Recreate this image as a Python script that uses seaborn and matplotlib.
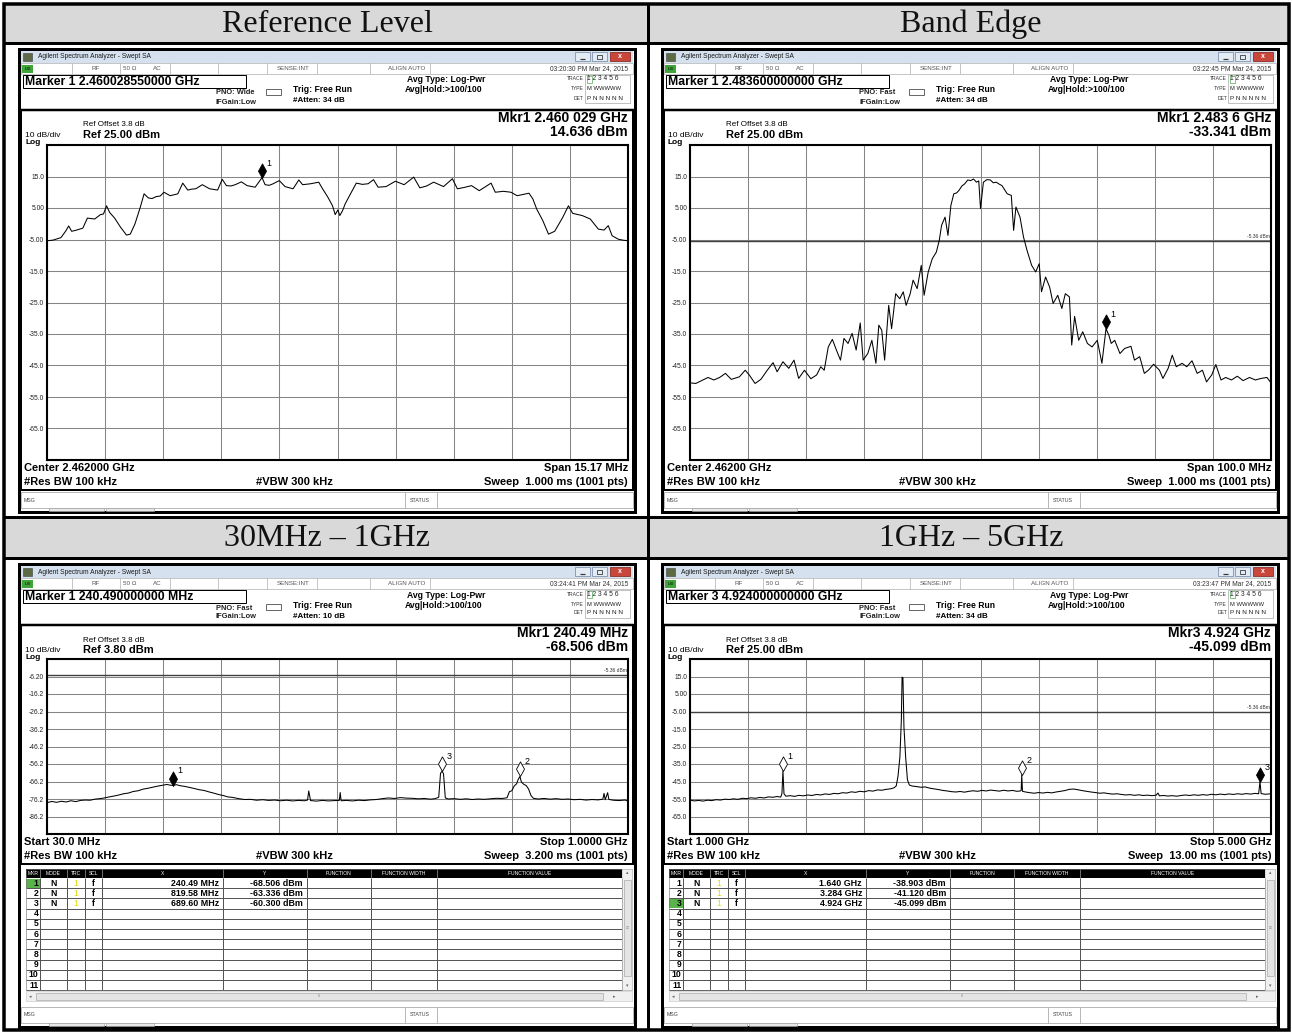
import numpy as np
import pandas as pd
import matplotlib
matplotlib.use("Agg")
import matplotlib.pyplot as plt
from matplotlib.patches import Rectangle
from matplotlib.path import Path
import seaborn as sns

# ---------------------------------------------------------------- data
panel_titles = ["Reference Level", "Band Edge", "30MHz – 1GHz", "1GHz – 5GHz"]

# Reference Level trace (MHz, dBm)
ref_trace = [
    (2454.42, -5.4), (2454.57, -5.2), (2454.78, -4.4), (2454.91, -2.2), (2454.98, -0.7),
    (2455.06, -2.4), (2455.19, -2.0), (2455.35, -1.4), (2455.47, 1.8), (2455.66, 1.5),
    (2455.81, 2.9), (2455.89, 3.1), (2455.97, 5.7), (2456.05, 3.6), (2456.18, 1.8),
    (2456.33, -1.0), (2456.49, -3.6), (2456.59, -3.3), (2456.71, -0.1), (2456.85, 5.2),
    (2456.95, 9.5), (2457.06, 8.2), (2457.16, 8.0), (2457.26, 8.6), (2457.37, 8.8),
    (2457.47, 10.0), (2457.63, 8.9), (2457.83, 9.5), (2457.96, 12.9), (2458.09, 10.7),
    (2458.20, 11.0), (2458.30, 11.1), (2458.47, 12.4), (2458.66, 11.1), (2458.87, 10.7),
    (2458.99, 14.1), (2459.10, 12.1), (2459.22, 12.0), (2459.33, 12.4), (2459.49, 13.3),
    (2459.64, 12.1), (2459.85, 11.6), (2460.029, 14.636), (2460.11, 12.4), (2460.22, 12.2),
    (2460.32, 12.7), (2460.48, 13.7), (2460.63, 11.8), (2460.84, 11.1), (2460.99, 13.9),
    (2461.09, 12.4), (2461.30, 12.7), (2461.51, 13.2), (2461.61, 11.1), (2461.75, 8.4),
    (2461.87, 5.7), (2461.94, 2.9), (2462.01, 4.4), (2462.06, 2.6), (2462.13, 4.1),
    (2462.20, 6.3), (2462.34, 9.5), (2462.49, 12.9), (2462.65, 12.5), (2462.80, 12.7),
    (2462.94, 14.0), (2463.06, 11.6), (2463.27, 11.8), (2463.51, 13.5), (2463.74, 12.4),
    (2463.99, 14.8), (2464.15, 11.4), (2464.33, 12.0), (2464.51, 13.2), (2464.77, 11.8),
    (2465.00, 14.3), (2465.13, 11.1), (2465.30, 11.5), (2465.50, 12.1), (2465.70, 10.5),
    (2466.01, 12.9), (2466.12, 10.0), (2466.33, 10.3), (2466.53, 10.0), (2466.69, 8.9),
    (2467.00, 9.7), (2467.10, 7.9), (2467.20, 4.7), (2467.36, 1.0), (2467.51, -3.3),
    (2467.67, -2.4), (2467.88, 2.0), (2468.03, 5.7), (2468.14, 3.3), (2468.39, 2.6),
    (2468.60, 1.5), (2468.81, -1.7), (2468.96, -2.0), (2469.07, -0.6), (2469.17, -3.8),
    (2469.33, -4.9), (2469.45, -5.2), (2469.585, -5.4),
]

# Band Edge trace (MHz, dBm)
edge_trace = [
    (2412.0, -50.5), (2413.0, -50.7), (2414.0, -49.8), (2415.1, -48.8), (2416.1, -49.6),
    (2417.1, -48.8), (2418.1, -47.5), (2419.1, -49.4), (2420.5, -48.6), (2421.5, -46.5),
    (2422.2, -48.0), (2423.2, -50.7), (2424.2, -49.4), (2425.3, -46.5), (2426.3, -44.1),
    (2427.0, -47.0), (2428.0, -43.8), (2429.0, -45.9), (2429.9, -43.3), (2430.7, -49.1),
    (2431.7, -46.5), (2432.8, -49.2), (2433.8, -48.0), (2434.5, -45.4), (2435.1, -46.5),
    (2435.8, -39.1), (2436.5, -36.7), (2437.2, -40.1), (2437.9, -43.3), (2438.5, -36.4),
    (2439.2, -38.0), (2439.9, -34.8), (2440.6, -40.1), (2441.3, -31.5), (2441.8, -43.3),
    (2442.6, -41.2), (2443.3, -37.0), (2444.0, -44.3), (2444.5, -32.2), (2445.0, -33.8),
    (2445.5, -43.3), (2446.2, -25.9), (2446.7, -33.3), (2447.4, -22.2), (2448.1, -23.8),
    (2448.7, -21.6), (2449.2, -25.9), (2449.9, -22.2), (2450.4, -17.9), (2451.1, -20.6),
    (2451.8, -13.2), (2452.3, -22.7), (2453.0, -15.3), (2453.7, -11.1), (2454.4, -9.0),
    (2454.9, -5.3), (2455.3, -0.5), (2455.9, 2.1), (2456.4, -3.7), (2456.9, 5.8),
    (2457.4, 9.5), (2457.9, 9.8), (2458.3, 10.6), (2458.8, 12.0), (2459.3, 12.7),
    (2459.8, 13.9), (2460.3, 13.7), (2460.8, 14.2), (2461.3, 13.2), (2461.7, 13.6),
    (2462.0, 4.8), (2462.5, 13.2), (2463.1, 14.0), (2463.7, 13.9), (2464.2, 13.0),
    (2464.7, 13.2), (2465.2, 12.6), (2465.7, 12.1), (2466.6, 9.5), (2467.3, 9.0),
    (2467.7, -2.1), (2468.1, 5.3), (2468.8, 2.1), (2469.4, -4.2), (2470.0, -8.4),
    (2470.8, -13.2), (2471.5, -15.3), (2472.1, -12.7), (2472.5, -21.6), (2473.2, -16.9),
    (2473.9, -20.1), (2474.5, -25.3), (2475.3, -22.7), (2476.0, -26.9), (2476.6, -22.2),
    (2477.3, -23.2), (2477.7, -38.5), (2478.2, -29.4), (2478.9, -37.0), (2479.6, -34.3),
    (2480.4, -38.0), (2481.2, -39.1), (2482.1, -37.0), (2482.9, -44.3), (2483.6, -33.341),
    (2484.1, -35.4), (2484.5, -38.0), (2485.1, -37.0), (2486.0, -41.2), (2486.8, -39.6),
    (2487.9, -38.9), (2488.5, -43.3), (2489.4, -42.2), (2490.2, -47.5), (2490.9, -46.5),
    (2491.8, -44.6), (2492.8, -46.5), (2493.4, -49.1), (2494.3, -45.9), (2495.0, -41.7),
    (2495.7, -45.4), (2496.7, -44.3), (2497.5, -45.4), (2498.4, -43.5), (2499.3, -47.5),
    (2500.2, -46.5), (2500.9, -50.2), (2501.8, -48.0), (2502.5, -44.7), (2503.4, -49.6),
    (2504.2, -48.8), (2505.2, -49.6), (2506.2, -48.4), (2507.2, -49.8), (2508.3, -48.8),
    (2509.3, -49.6), (2510.3, -49.1), (2511.3, -48.8), (2512.0, -50.5),
]

# 30 MHz - 1 GHz trace (MHz, dBm)
low_trace = [
    (30, -78.3), (38, -77.6), (46, -78.1), (54, -77.5), (62, -77.9), (70, -77.2), (78, -77.7),
    (86, -77.0), (94, -76.8), (102, -76.9), (110, -76.3), (118, -76.0), (126, -75.6),
    (134, -75.0), (142, -74.5), (150, -73.9), (158, -73.2), (166, -72.8), (174, -71.9),
    (182, -71.5), (190, -70.6), (198, -70.1), (206, -69.5), (214, -68.9), (222, -68.4),
    (230, -67.9), (236, -68.3), (240.49, -68.506), (246, -68.0), (252, -68.6), (260, -69.0),
    (268, -69.6), (276, -70.2), (284, -70.9), (292, -71.3), (300, -72.1), (308, -72.8),
    (316, -73.6), (324, -74.2), (332, -75.0), (340, -75.3), (350, -76.0), (360, -76.5),
    (370, -76.4), (380, -76.9), (390, -76.6), (400, -77.0), (410, -76.8), (420, -77.2),
    (430, -76.9), (440, -77.3), (450, -77.0), (460, -77.2), (465, -76.8), (467, -71.6),
    (470, -77.1), (480, -77.4), (490, -77.0), (500, -77.3), (510, -77.1), (518, -77.0),
    (519.5, -72.5), (521, -77.2), (530, -77.0), (540, -77.3), (550, -76.9), (560, -77.1),
    (570, -76.7), (580, -76.5), (590, -76.0), (600, -75.6), (610, -75.9), (620, -75.4),
    (630, -75.7), (640, -75.8), (650, -76.1), (660, -75.9), (670, -76.3), (678, -76.0),
    (684, -75.2), (687, -61.5), (689.6, -60.3), (692, -61.8), (695, -75.6), (700, -76.2),
    (710, -76.0), (720, -76.4), (730, -76.1), (740, -76.5), (750, -76.2), (760, -76.4),
    (770, -76.1), (780, -75.8), (790, -75.9), (798, -75.5), (802, -72.0), (806, -71.5),
    (810, -68.8), (814, -67.5), (817, -64.8), (819.58, -63.336), (822, -66.5), (826, -67.8),
    (830, -68.5), (834, -70.5), (838, -74.2), (842, -75.8), (850, -76.2), (860, -75.9),
    (870, -76.3), (880, -76.0), (890, -76.4), (900, -76.2), (910, -76.6), (920, -76.4),
    (930, -76.8), (940, -76.5), (950, -76.7), (958, -76.3), (960, -73.0), (962, -76.6),
    (966, -72.6), (968, -76.4), (975, -76.9), (985, -77.1), (995, -76.8), (1000, -77.4),
]

# 1 GHz - 5 GHz trace (GHz, dBm)
high_trace = [
    (1.000, -55.6), (1.030, -56.1), (1.060, -55.8), (1.090, -56.2), (1.120, -55.7),
    (1.150, -55.9), (1.180, -55.4), (1.210, -55.6), (1.240, -55.1), (1.270, -55.3),
    (1.300, -54.9), (1.330, -55.2), (1.360, -54.6), (1.390, -54.8), (1.420, -54.3),
    (1.450, -54.6), (1.480, -54.1), (1.510, -54.4), (1.540, -53.8), (1.570, -54.0),
    (1.600, -53.6), (1.625, -53.9), (1.633, -51.8), (1.640, -38.903), (1.647, -52.0),
    (1.660, -53.4), (1.690, -53.1), (1.720, -53.5), (1.750, -52.9), (1.780, -53.2),
    (1.810, -52.7), (1.840, -53.0), (1.870, -52.4), (1.900, -52.7), (1.930, -52.1),
    (1.960, -52.4), (1.990, -51.8), (2.020, -52.0), (2.050, -51.4), (2.080, -51.6),
    (2.110, -50.9), (2.140, -51.2), (2.170, -50.6), (2.200, -50.9), (2.230, -50.2),
    (2.260, -50.5), (2.290, -49.8), (2.320, -50.0), (2.350, -49.5), (2.380, -49.2),
    (2.405, -48.6), (2.420, -47.5), (2.432, -42.0), (2.445, -31.0), (2.455, -10.0),
    (2.460, 14.6), (2.466, 14.3), (2.473, -14.0), (2.485, -31.5), (2.497, -44.0),
    (2.510, -47.0), (2.530, -47.6), (2.560, -47.9), (2.590, -48.3), (2.620, -48.1),
    (2.650, -48.8), (2.680, -49.2), (2.710, -49.6), (2.740, -50.1), (2.770, -50.4),
    (2.800, -50.8), (2.830, -51.0), (2.860, -50.7), (2.890, -51.1), (2.920, -50.6),
    (2.950, -50.3), (2.980, -50.6), (3.010, -50.1), (3.040, -50.4), (3.070, -49.9),
    (3.100, -50.2), (3.130, -50.5), (3.160, -50.0), (3.190, -50.4), (3.220, -50.1),
    (3.250, -50.6), (3.275, -50.4), (3.280, -50.0), (3.284, -41.12), (3.289, -50.6),
    (3.310, -51.0), (3.340, -51.4), (3.370, -51.7), (3.400, -51.3), (3.430, -51.6),
    (3.460, -51.2), (3.490, -51.5), (3.520, -51.0), (3.550, -50.6), (3.580, -50.2),
    (3.610, -49.5), (3.640, -49.3), (3.670, -49.7), (3.700, -50.2), (3.730, -50.6),
    (3.760, -51.0), (3.790, -51.3), (3.820, -51.7), (3.850, -51.5), (3.880, -51.9),
    (3.910, -52.2), (3.940, -52.0), (3.970, -52.4), (4.000, -52.7), (4.030, -52.5),
    (4.060, -52.9), (4.090, -52.6), (4.120, -53.0), (4.150, -52.8), (4.180, -53.1),
    (4.210, -52.8), (4.222, -51.6), (4.232, -53.2), (4.260, -53.0), (4.290, -53.3),
    (4.320, -53.1), (4.350, -53.4), (4.380, -53.0), (4.410, -52.7), (4.440, -53.0),
    (4.470, -52.6), (4.500, -52.9), (4.530, -52.5), (4.560, -52.8), (4.590, -52.3),
    (4.620, -52.6), (4.650, -52.2), (4.680, -52.5), (4.710, -52.1), (4.740, -52.4),
    (4.770, -52.0), (4.800, -52.3), (4.830, -51.9), (4.860, -52.2), (4.890, -51.8),
    (4.915, -52.0), (4.924, -45.099), (4.932, -51.9), (4.960, -52.3), (5.000, -52.0),
]

# markers: ids, frequency, level, active marker
ref_markers = ([1], [2460.029], [14.636], 1)
edge_markers = ([1], [2483.6], [-33.341], 1)
low_markers = ([1, 2, 3], [240.49, 819.58, 689.60], [-68.506, -63.336, -60.300], 1)
high_markers = ([1, 2, 3], [1.640, 3.284, 4.924], [-38.903, -41.120, -45.099], 3)

# marker table strings
low_table_x = ["240.49 MHz", "819.58 MHz", "689.60 MHz"]
low_table_y = ["-68.506 dBm", "-63.336 dBm", "-60.300 dBm"]
high_table_x = ["1.640 GHz", "3.284 GHz", "4.924 GHz"]
high_table_y = ["-38.903 dBm", "-41.120 dBm", "-45.099 dBm"]

# axis settings: (start, stop, reference level)
ref_axis = (2454.415, 2469.585, 25.0)
edge_axis = (2412.0, 2512.0, 25.0)
low_axis = (30.0, 1000.0, 3.8)
high_axis = (1.0, 5.0, 25.0)
ticks_25 = ["15.0", "5.00", "-5.00", "-15.0", "-25.0", "-35.0", "-45.0", "-55.0", "-65.0"]
ticks_38 = ["-6.20", "-16.2", "-26.2", "-36.2", "-46.2", "-56.2", "-66.2", "-76.2", "-86.2"]
display_line = -5.36

# screen texts
screen_text = [
    dict(time="03:20:30 PM Mar 24, 2015", marker="Marker 1 2.460028550000 GHz", pno="PNO: Wide",
         atten="#Atten: 34 dB", ref="Ref 25.00 dBm", mkr1="Mkr1 2.460 029 GHz", mkr2="14.636 dBm",
         bl="Center 2.462000 GHz", br="Span 15.17 MHz", sweep="Sweep  1.000 ms (1001 pts)"),
    dict(time="03:22:45 PM Mar 24, 2015", marker="Marker 1 2.483600000000 GHz", pno="PNO: Fast",
         atten="#Atten: 34 dB", ref="Ref 25.00 dBm", mkr1="Mkr1 2.483 6 GHz", mkr2="-33.341 dBm",
         bl="Center 2.46200 GHz", br="Span 100.0 MHz", sweep="Sweep  1.000 ms (1001 pts)"),
    dict(time="03:24:41 PM Mar 24, 2015", marker="Marker 1 240.490000000 MHz", pno="PNO: Fast",
         atten="#Atten: 10 dB", ref="Ref 3.80 dBm", mkr1="Mkr1 240.49 MHz", mkr2="-68.506 dBm",
         bl="Start 30.0 MHz", br="Stop 1.0000 GHz", sweep="Sweep  3.200 ms (1001 pts)"),
    dict(time="03:23:47 PM Mar 24, 2015", marker="Marker 3 4.924000000000 GHz", pno="PNO: Fast",
         atten="#Atten: 34 dB", ref="Ref 25.00 dBm", mkr1="Mkr3 4.924 GHz", mkr2="-45.099 dBm",
         bl="Start 1.000 GHz", br="Stop 5.000 GHz", sweep="Sweep  13.00 ms (1001 pts)"),
]

# ---------------------------------------------------------------- setup
sns.set_theme(style="white")
SANS = ["Liberation Sans", "DejaVu Sans"]
SERIF = ["Liberation Serif", "DejaVu Serif"]
plt.rcParams["font.family"] = SANS

W, H, DPI = 1292, 1034, 100
PT = 72.0 / DPI
fig = plt.figure(figsize=(W / DPI, H / DPI), dpi=DPI)
fig.patch.set_facecolor("white")
bg = fig.add_axes([0, 0, 1, 1])
bg.set_xlim(0, W)
bg.set_ylim(H, 0)
bg.axis("off")


def rect(x0, y0, x1, y1, fc="none", ec="none", lw=0.0, z=1):
    bg.add_patch(Rectangle((x0, y0), x1 - x0, y1 - y0, facecolor=fc, edgecolor=ec,
                           linewidth=lw * PT, zorder=z))


def line(x0, y0, x1, y1, color="black", lw=1.0, z=3):
    bg.plot([x0, x1], [y0, y1], color=color, lw=lw * PT, solid_capstyle="butt", zorder=z)


def txt(x, y, s, size, ha="left", weight="normal", color="black", family=None, z=5):
    bg.text(x, y, s, fontsize=size, ha=ha, va="center", fontweight=weight, color=color,
            family=family or SANS, zorder=z)


# ---------------------------------------------------------------- table frame
GRAY = "#d9d9d9"
rect(5, 5, 1288, 42, fc=GRAY, z=0)
rect(5, 518, 1288, 557, fc=GRAY, z=0)
rect(4, 4, 1289, 1030, ec="black", lw=3.5, z=6)
line(4, 43, 1289, 43, lw=3)
line(4, 517, 1289, 517, lw=3)
line(4, 558, 1289, 558, lw=3)
line(648, 4, 648, 1030, lw=3)
for (cx, cy), t in zip([(327, 24), (971, 24), (327, 538), (971, 538)], panel_titles):
    txt(cx, cy, t, 23, ha="center", family=SERIF, color="#111111")

# diamond marker shape (tip at data point)
DIAMOND = Path([(0, 0), (0.55, 1), (0, 2), (-0.55, 1), (0, 0)],
               [Path.MOVETO, Path.LINETO, Path.LINETO, Path.LINETO, Path.CLOSEPOLY])

STATUS_DIV = [53, 101, 151, 199, 248, 298, 351, 411]
TABLE_COLS = [7, 21, 48, 66, 83, 204, 288, 352, 418, 603]
TABLE_HDR = ["MKR", "MODE", "TRC", "SCL", "X", "Y", "FUNCTION", "FUNCTION WIDTH", "FUNCTION VALUE"]


def draw_screen(sx, sy, c, trace, axis, ticks, markers, disp, table=None):
    R = lambda x0, y0, x1, y1, **kw: rect(sx + x0, sy + y0, sx + x1, sy + y1, **kw)
    T = lambda x, y, s, size, **kw: txt(sx + x, sy + y, s, size, **kw)
    L = lambda x0, y0, x1, y1, **kw: line(sx + x0, sy + y0, sx + x1, sy + y1, **kw)

    # window
    R(0, 0, 616, 463, fc="white", ec="black", lw=3, z=1)
    R(2, 2, 614, 14, fc="#d5e1ef", z=2)
    R(4, 4, 13, 12, fc="#5e6a44", ec="#333333", lw=0.5, z=3)
    T(19, 8, "Agilent Spectrum Analyzer - Swept SA", 4.8, color="#1a1a1a")
    R(556, 3, 571, 12, fc="#e3ebf5", ec="#7d8fab", lw=0.8, z=3)
    R(573, 3, 588, 12, fc="#e3ebf5", ec="#7d8fab", lw=0.8, z=3)
    R(591, 3, 611, 12, fc="#c9463b", ec="#8a2a22", lw=0.8, z=3)
    L(561, 9.5, 566, 9.5, color="#333333", lw=1.2, z=4)
    R(578, 5.5, 583, 10, ec="#333333", lw=0.8, z=4)
    T(601, 7.5, "x", 5, ha="center", color="white", weight="bold")
    # status row
    R(2, 14, 614, 25, fc="white", ec="#b8b8b8", lw=0.8, z=2)
    for d in STATUS_DIV:
        L(d, 14, d, 25, color="#b8b8b8", lw=0.8)
    R(3, 15.5, 14, 24, fc="#3fa53a", z=3)
    T(8.5, 19.8, "LXI", 3, ha="center", weight="bold", color="#16320f")
    T(77, 19.8, "RF", 4.5, ha="center", color="#555555")
    T(104, 19.8, "50 Ω", 4.5, color="#555555")
    T(134, 19.8, "AC", 4.5, color="#555555")
    T(258, 19.8, "SENSE:INT", 4.5, color="#555555")
    T(369, 19.8, "ALIGN AUTO", 4.5, color="#555555")
    T(609, 19.8, c["time"], 4.8, ha="right", color="#333333")
    # header area
    R(4, 26, 227, 39, ec="black", lw=1.0, z=3)
    T(6, 33, c["marker"], 8.8, weight="bold")
    T(197, 44, c["pno"], 5.4, weight="bold", color="#222222")
    T(197, 53, "IFGain:Low", 5.4, weight="bold", color="#222222")
    R(247, 40, 262, 46, fc="white", ec="#444444", lw=0.8, z=3)
    T(274, 41, "Trig: Free Run", 6.2, weight="bold")
    T(274, 52, c["atten"], 5.8, weight="bold")
    T(388, 31, "Avg Type: Log-Pwr", 6.2, weight="bold")
    T(386, 41, "Avg|Hold:>100/100", 6.2, weight="bold")
    T(565, 30, "TRACE", 3.6, ha="right", color="#333333")
    T(565, 40, "TYPE", 3.6, ha="right", color="#333333")
    T(565, 49, "DET", 3.6, ha="right", color="#333333")
    T(568, 30, "1 2 3 4 5 6", 4.8, color="#222222")
    T(568, 40, "M WWWWW", 4.2, color="#222222")
    T(568, 49, "P N N N N N", 4.6, color="#222222")
    R(566, 26, 611, 54, ec="#9a9a9a", lw=0.6, z=3)
    R(567.5, 26.5, 573, 34, ec="#3a9a3a", lw=0.6, z=3)
    # main panel
    L(1, 61, 615, 61, lw=2.5)
    bottom = 441 if table is None else 300
    R(2, 61, 614, bottom, ec="black", lw=2, z=3)
    T(64, 76, "Ref Offset 3.8 dB", 5.8)
    T(6, 86.5, "10 dB/div", 6.0)
    T(64, 86, c["ref"], 8.0, weight="bold")
    T(6, 93.5, "Log", 6.0, weight="bold")
    T(609, 69, c["mkr1"], 10, ha="right", weight="bold")
    T(609, 83, c["mkr2"], 10, ha="right", weight="bold")
    py0, py1 = (96, 411) if table is None else (95, 270)
    T(5, py1 + 8, c["bl"], 8.0, weight="bold")
    T(5, py1 + 22, "#Res BW 100 kHz", 8.0, weight="bold")
    T(237, py1 + 22, "#VBW 300 kHz", 8.0, weight="bold")
    T(609, py1 + 8, c["br"], 8.0, ha="right", weight="bold")
    T(609, py1 + 22, c["sweep"], 8.0, ha="right", weight="bold")
    # message bar
    R(2, 443, 614, 459, fc="white", ec="#a8a8a8", lw=0.8, z=2)
    L(386, 443, 386, 459, color="#a8a8a8", lw=0.8)
    L(418, 443, 418, 459, color="#a8a8a8", lw=0.8)
    T(5, 451, "MSG", 3.8, color="#444444")
    T(391, 451, "STATUS", 3.8, color="#444444")
    R(30, 459, 85, 462, fc="#e8e8e8", ec="#9a9a9a", lw=0.6, z=2)
    R(87, 459, 135, 462, fc="#e8e8e8", ec="#9a9a9a", lw=0.6, z=2)

    # ---------------- spectrum plot
    ax = fig.add_axes([(sx + 28) / W, 1 - (sy + py1) / H, 581 / W, (py1 - py0) / H], zorder=4)
    start, stop, reflev = axis
    df = pd.DataFrame(trace, columns=["freq", "level"])
    sns.lineplot(data=df, x="freq", y="level", ax=ax, color="black", linewidth=0.75,
                 estimator=None, sort=False, zorder=3)
    ax.set_xlim(start, stop)
    ax.set_ylim(reflev - 100, reflev)
    ax.set_xticks(np.linspace(start, stop, 11))
    ax.set_xticklabels([])
    ax.set_yticks(reflev - 10 * np.arange(11))
    ax.set_yticklabels([""] + ticks + [""])
    ax.set_xlabel("")
    ax.set_ylabel("")
    ax.grid(True, color="#858585", linewidth=0.75)
    ax.tick_params(length=0, labelsize=4.8, pad=2, labelcolor="#222222")
    for s in ax.spines.values():
        s.set_color("black")
        s.set_linewidth(1.5)
    ax.set_facecolor("white")
    if disp is not None:
        ax.axhline(disp, color="#404040", linewidth=1.0, zorder=2)
        ax.annotate(f"{disp:.2f} dBm", (stop, disp), xytext=(-1, 1.5), textcoords="offset points",
                    ha="right", va="bottom", fontsize=3.6, color="#333333")
    ids, mf, mv, active = markers
    for i, f, v in zip(ids, mf, mv):
        fc = "black" if i == active else "white"
        ax.plot([f], [v], marker=DIAMOND, markersize=21, markerfacecolor=fc,
                markeredgecolor="black", markeredgewidth=0.6, linestyle="none",
                zorder=5, clip_on=False)
        ax.annotate(str(i), (f, v), xytext=(3.2, 10.5), textcoords="offset points",
                    ha="left", va="center", fontsize=6.5, color="black", zorder=6,
                    annotation_clip=False)

    # ---------------- marker table
    if table is not None:
        xs, ys = table
        top, hb, rh = 305, 314, 10.2
        R(7, top, 603, hb, fc="black", z=3)
        for k in range(len(TABLE_HDR)):
            cx = (TABLE_COLS[k] + TABLE_COLS[k + 1]) / 2
            T(cx, (top + hb) / 2 + 0.3, TABLE_HDR[k], 3.6, ha="center", color="white")
            if k > 0:
                L(TABLE_COLS[k], top, TABLE_COLS[k], hb, color="#888888", lw=0.8, z=4)
        nrows = 11
        tb = hb + nrows * rh
        for r in range(nrows):
            yc = hb + (r + 0.5) * rh
            if r + 1 == active:
                R(7, hb + r * rh + 0.8, 21, hb + (r + 1) * rh - 0.5, fc="#59b34a", z=2)
            L(7, hb + (r + 1) * rh, 603, hb + (r + 1) * rh, color="#555555", lw=1.0)
            T(19.5, yc, str(r + 1), 6.2, ha="right", weight="bold")
            if r < len(xs):
                T(34.5, yc, "N", 6.2, ha="center", weight="bold")
                T(57, yc, "1", 6.2, ha="center", color="#e5d800")
                T(74.5, yc, "f", 6.2, ha="center", weight="bold")
                T(200, yc, xs[r], 6.4, ha="right", weight="bold")
                T(284, yc, ys[r], 6.4, ha="right", weight="bold")
        for cxl in TABLE_COLS[1:]:
            L(cxl, hb, cxl, tb, color="#555555", lw=1.0)
        R(7, top, 613, tb, ec="#777777", lw=0.6, z=3)
        # vertical scrollbar
        R(603, top, 613, tb, fc="#f0f0f0", ec="#bdbdbd", lw=0.5, z=3)
        R(604.5, hb + 2, 611.5, tb - 14, fc="#e4e4e4", ec="#a0a0a0", lw=0.6, z=4)
        T(608, top + 4, "▴", 3.5, ha="center", color="#666666")
        T(608, tb - 5, "▾", 3.5, ha="center", color="#666666")
        T(608, (hb + tb - 12) / 2, "≡", 3.5, ha="center", color="#888888")
        # horizontal scrollbar
        R(7, tb + 1, 613, tb + 11, fc="#f0f0f0", ec="#bdbdbd", lw=0.5, z=3)
        R(17, tb + 2.5, 584, tb + 9.5, fc="#e4e4e4", ec="#a0a0a0", lw=0.6, z=4)
        T(11, tb + 6, "◂", 3.5, ha="center", color="#666666")
        T(595, tb + 6, "▸", 3.5, ha="center", color="#666666")
        T(300, tb + 6, "III", 3.0, ha="center", color="#888888")


draw_screen(19, 49, screen_text[0], ref_trace, ref_axis, ticks_25, ref_markers, None)
draw_screen(662, 49, screen_text[1], edge_trace, edge_axis, ticks_25, edge_markers, display_line)
draw_screen(19, 564, screen_text[2], low_trace, low_axis, ticks_38, low_markers, display_line,
            table=(low_table_x, low_table_y))
draw_screen(662, 564, screen_text[3], high_trace, high_axis, ticks_25, high_markers, display_line,
            table=(high_table_x, high_table_y))

fig.savefig("out.png", dpi=DPI)
